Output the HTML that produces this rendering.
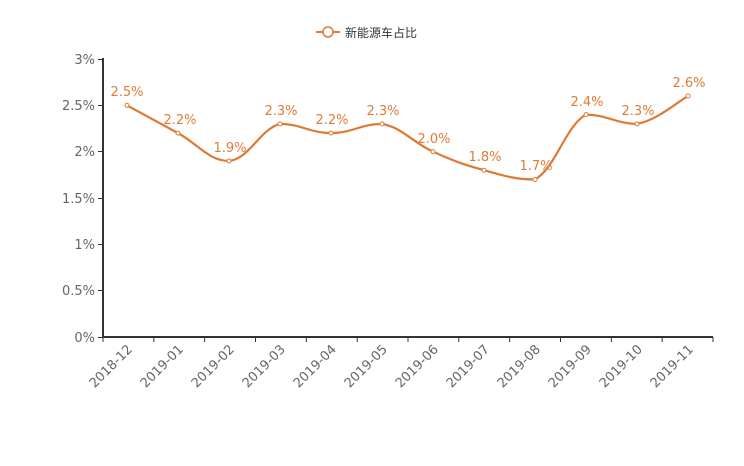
<!DOCTYPE html>
<html><head><meta charset="utf-8"><style>
body{margin:0;background:#fff;}
svg{display:block;font-family:"DejaVu Sans","Noto Sans CJK SC",sans-serif;}
</style></head><body>
<svg id="s" width="744" height="466" viewBox="0 0 744 466">
<g stroke="#333" stroke-width="2" fill="none">
<line x1="103" y1="58" x2="103" y2="338"/>
<line x1="102" y1="337" x2="713" y2="337"/>
</g>
<g stroke="#333" stroke-width="1">
<line x1="98" y1="59.5" x2="103" y2="59.5"/><line x1="98" y1="105.5" x2="103" y2="105.5"/><line x1="98" y1="151.5" x2="103" y2="151.5"/><line x1="98" y1="198.5" x2="103" y2="198.5"/><line x1="98" y1="244.5" x2="103" y2="244.5"/><line x1="98" y1="290.5" x2="103" y2="290.5"/><line x1="98" y1="337.5" x2="103" y2="337.5"/>
</g>
<g id="xt" stroke="#333" stroke-width="1"></g>
<g fill="#666" font-size="13" text-anchor="end">
<text x="95" y="64">3%</text><text x="95" y="110">2.5%</text><text x="95" y="156">2%</text><text x="95" y="203">1.5%</text><text x="95" y="249">1%</text><text x="95" y="295">0.5%</text><text x="95" y="342">0%</text>
</g>
<g id="xl" fill="#666" font-size="13" text-anchor="end">
<text transform="translate(133,350) rotate(-45)">2018-12</text>
<text transform="translate(184,350) rotate(-45)">2019-01</text>
<text transform="translate(235,350) rotate(-45)">2019-02</text>
<text transform="translate(286,350) rotate(-45)">2019-03</text>
<text transform="translate(337,350) rotate(-45)">2019-04</text>
<text transform="translate(388,350) rotate(-45)">2019-05</text>
<text transform="translate(439,350) rotate(-45)">2019-06</text>
<text transform="translate(490,350) rotate(-45)">2019-07</text>
<text transform="translate(541,350) rotate(-45)">2019-08</text>
<text transform="translate(592,350) rotate(-45)">2019-09</text>
<text transform="translate(643,350) rotate(-45)">2019-10</text>
<text transform="translate(694,350) rotate(-45)">2019-11</text>
</g>
<path id="ln" fill="none" stroke="#dc7a36" stroke-width="2.2"/>
<g id="pts" fill="#fff" stroke="#dc7a36" stroke-width="1"></g>
<g fill="#e07b39" font-size="13" text-anchor="middle">
<text x="127" y="96">2.5%</text><text x="180" y="124">2.2%</text><text x="230" y="152">1.9%</text><text x="281" y="115">2.3%</text><text x="332" y="124">2.2%</text><text x="383" y="115">2.3%</text><text x="434" y="143">2.0%</text><text x="485" y="161">1.8%</text><text x="536" y="170">1.7%</text><text x="587" y="106">2.4%</text><text x="638" y="115">2.3%</text><text x="689" y="87">2.6%</text>
</g>
<g>
<line x1="316" y1="32" x2="340" y2="32" stroke="#dc7a36" stroke-width="2"/>
<circle cx="328" cy="32" r="5" fill="#fff" stroke="#dc7a36" stroke-width="1.5"/>
<text x="345" y="37" fill="#333" font-size="12">新能源车占比</text>
</g>
</svg>
<script>
var v=[2.5,2.2,1.9,2.3,2.2,2.3,2.0,1.8,1.7,2.4,2.3,2.6];
var P=v.map(function(a,i){return [127+51*i,337-a*92.67];});
var d="M"+P[0][0]+","+P[0][1];
var s=0.4;
function cl(y,a,b){var lo=Math.min(a,b),hi=Math.max(a,b);return Math.max(lo,Math.min(hi,y));}
for(var i=0;i<P.length-1;i++){
 var p0=P[Math.max(i-1,0)],p1=P[i],p2=P[i+1],p3=P[Math.min(i+2,P.length-1)];
 var c1=[p1[0]+(p2[0]-p0[0])*s/2, p1[1]+(p2[1]-p0[1])*s/2];
 var c2=[p2[0]-(p3[0]-p1[0])*s/2, p2[1]-(p3[1]-p1[1])*s/2];
 c1[1]=cl(c1[1],p1[1],p2[1]);c2[1]=cl(c2[1],p1[1],p2[1]);
 d+=" C"+c1[0]+","+c1[1]+" "+c2[0]+","+c2[1]+" "+p2[0]+","+p2[1];
}
document.getElementById("ln").setAttribute("d",d);
var g=document.getElementById("pts"),h="";
P.forEach(function(p){h+='<circle cx="'+p[0]+'" cy="'+p[1]+'" r="2"/>';});
g.innerHTML=h;
var t="";for(var i=0;i<=12;i++){var x=103+i*610/12;t+='<line x1="'+x+'" y1="337" x2="'+x+'" y2="342"/>';}
document.getElementById("xt").innerHTML=t;
</script>
</body></html>
